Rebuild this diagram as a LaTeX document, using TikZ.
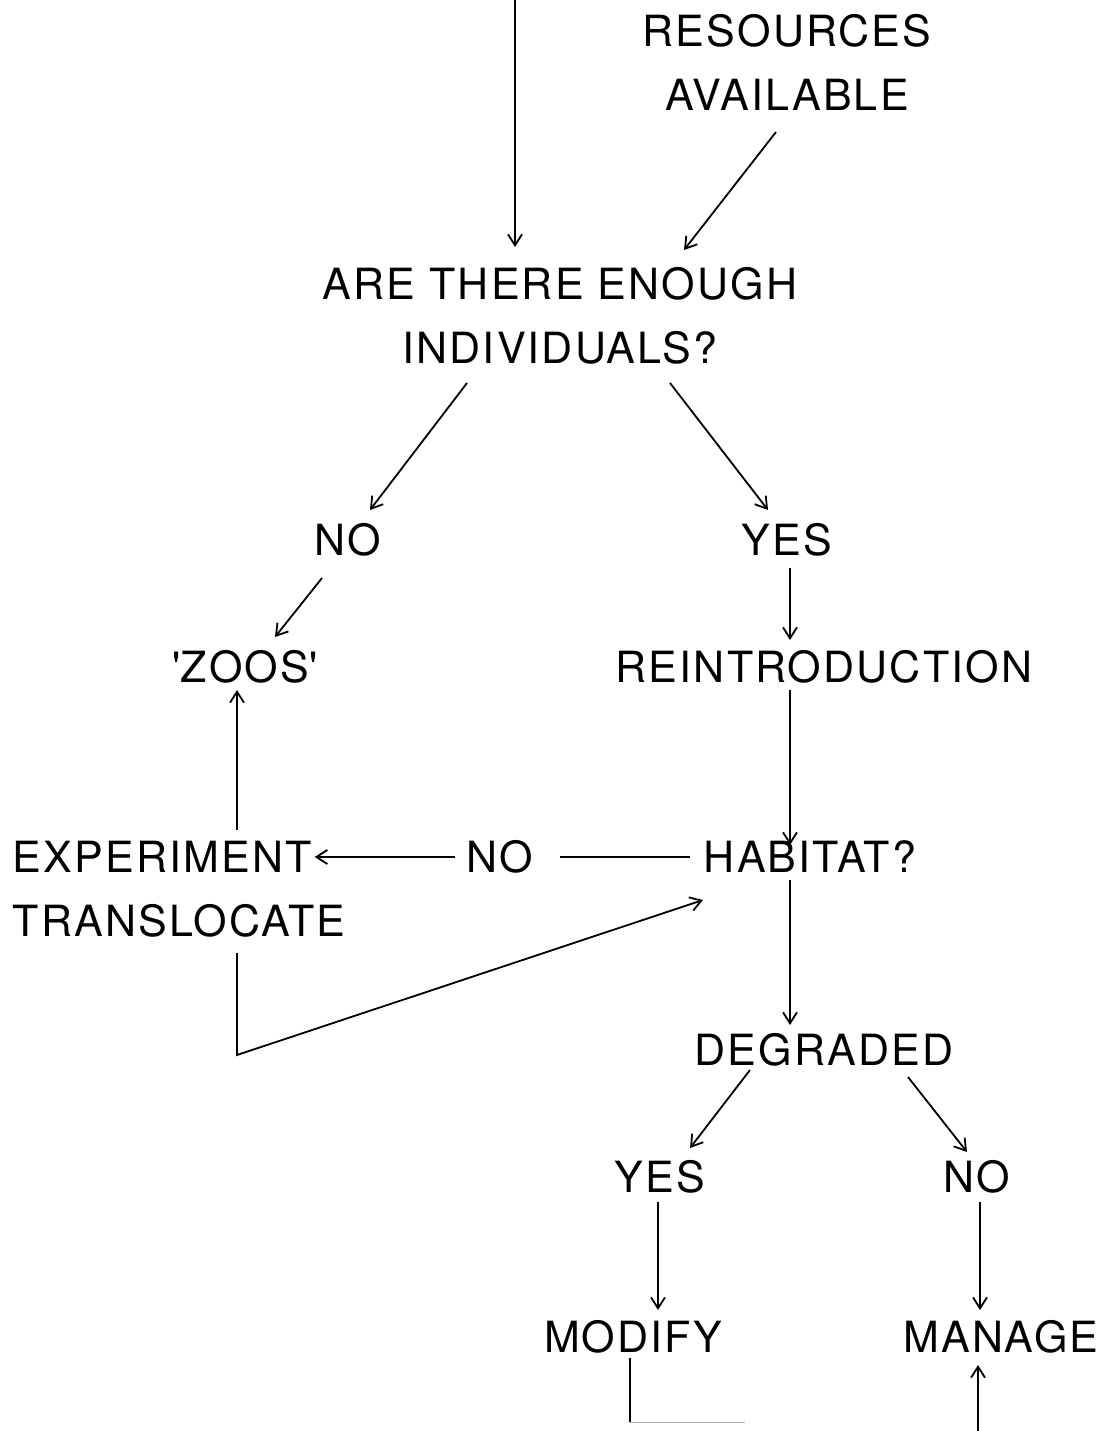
\documentclass[tikz,border=0pt]{standalone}
\usepackage{fontspec}
\setmainfont{TeX Gyre Heros}[LetterSpace=5]
\usetikzlibrary{arrows.meta,calc}

\begin{document}
\begin{tikzpicture}[x=1pt, y=-1pt, >={Straight Barb[length=11pt,width=14pt]},
        line width=1.8pt,
        lbl/.style={font=\fontsize{43}{64}\selectfont, inner sep=0pt, align=center}]
    \useasboundingbox (0,0) rectangle (1118,1431);

    % Knoten
    \node[lbl] (res) at (787,62) {RESOURCES\\AVAILABLE};
    \node[lbl] (ask) at (560,316) {ARE THERE ENOUGH\\INDIVIDUALS?};
    \node[lbl] (no1) at (348,540) {NO};
    \node[lbl] (yes1) at (787,540) {YES};
    \node[lbl] (zoos) at (245,667) {\textquotesingle ZOOS\textquotesingle};
    \node[lbl] (reintro) at (824,667) {REINTRODUCTION};
    \node[lbl] (hab) at (810,857) {HABITAT?};
    \node[lbl] (no2) at (500,857) {NO};
    \node[lbl, anchor=west] (exp) at (12,857) {EXPERIMENT};
    \node[lbl, anchor=west] (trans) at (12,921) {TRANSLOCATE};
    \node[lbl] (deg) at (824,1050) {DEGRADED};
    \node[lbl] (yes2) at (660,1177) {YES};
    \node[lbl] (no3) at (977,1177) {NO};
    \node[lbl] (modify) at (633,1337) {MODIFY};
    \node[lbl] (manage) at (1001,1337) {MANAGE};

    % Zuflüsse von oben
    \coordinate (top) at (515,0);
    \draw[->] (top) -- ($(ask)+(-45,-69)$);
    \draw[->] ($(res)+(-11,70)$) -- ($(ask)+(124,-66)$);

    % Verzweigung Individuen
    \draw[->] ($(ask)+(-93,67)$) -- ($(no1)+(22,-30)$);
    \draw[->] ($(ask)+(110,67)$) -- ($(yes1)+(-19,-30)$);
    \draw[->] ($(no1)+(-26,38)$) -- ($(zoos)+(30,-30)$);
    \draw[->] ($(yes1)+(3,28)$) -- ($(reintro)+(-34,-27)$);
    \draw[->] ($(reintro)+(-34,23)$) -- ($(hab)+(-20,-12)$);

    % Habitat nein
    \draw ($(hab)+(-120,0)$) -- ($(no2)+(60,0)$);
    \draw[->] ($(no2)+(-45,0)$) -- ($(exp.east)+(2,0)$);
    \draw[->] ($(exp.west)+(225,-27)$) -- ($(zoos)+(-8,23)$);
    \coordinate (bend) at (237,1055);
    \draw[->] ($(trans.west)+(225,32)$) -- (bend) -- ($(hab)+(-107,43)$);

    % Habitat ja
    \draw[->] ($(hab)+(-20,23)$) -- ($(deg)+(-34,-25)$);
    \draw[->] ($(deg)+(-74,20)$) -- ($(yes2)+(30,-29)$);
    \draw[->] ($(deg)+(84,27)$) -- ($(no3)+(-10,-25)$);
    \draw[->] ($(yes2)+(-2,25)$) -- ($(modify)+(25,-27)$);
    \draw[->] ($(no3)+(3,25)$) -- ($(manage)+(-21,-27)$);

    % unten abgeschnitten
    \coordinate (low) at (630,1422);
    \coordinate (lowend) at (745,1422);
    \draw ($(modify)+(-3,21)$) -- (low);
    \draw[gray!60, line width=0.8pt] (low) -- (lowend);
    \coordinate (up) at (978,1431);
    \draw[->] (up) -- ($(manage)+(-23,28)$);
\end{tikzpicture}
\end{document}
